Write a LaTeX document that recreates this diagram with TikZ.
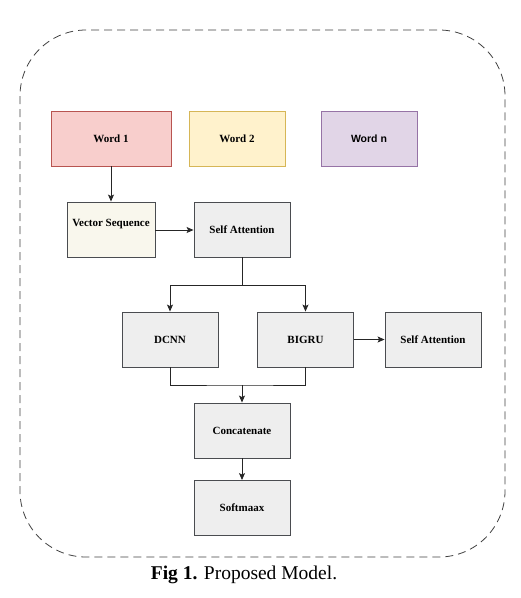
\documentclass[tikz,border=0pt]{standalone}
\usepackage{fontspec}
\setmainfont{Liberation Serif}
\newfontfamily\arialfont{Liberation Sans}
\usepackage{tikz}
\usetikzlibrary{shapes,arrows.meta}

\definecolor{wordonefill}{HTML}{F8CECC}
\definecolor{wordonedraw}{HTML}{B85450}
\definecolor{wordtwofill}{HTML}{FFF2CC}
\definecolor{wordtwodraw}{HTML}{D6B656}
\definecolor{wordnfill}{HTML}{E1D5E7}
\definecolor{wordndraw}{HTML}{9673A6}
\definecolor{vecfill}{HTML}{F9F7ED}
\definecolor{layerfill}{HTML}{EEEEEE}
\definecolor{layerdraw}{HTML}{4A4C50}

\begin{document}
\begin{tikzpicture}[x=1pt,y=-1pt,
    layer/.style={draw=layerdraw,fill=layerfill,line width=0.9pt,
      minimum width=96pt,minimum height=55pt,inner sep=2pt,
      font=\fontsize{11}{13}\selectfont\bfseries},
    flow/.style={-{Stealth[length=7pt,width=6pt,inset=1.5pt]},line width=0.9pt,black!85}]
    \useasboundingbox (0,0) rectangle (521,598);
    % outer frame
    \draw[dash pattern=on 8pt off 5pt,line width=0.8pt,black!75,rounded corners=66pt]
      (20,30) rectangle (505,557);
    % words
    \node[layer,fill=wordonefill,draw=wordonedraw,minimum width=120pt] (word1) at (111,138.5) {Word 1};
    \node[layer,fill=wordtwofill,draw=wordtwodraw] (word2) at (237,138.5) {Word 2};
    \node[layer,fill=wordnfill,draw=wordndraw,font=\arialfont\fontsize{10.5}{13}\selectfont\bfseries] (wordn) at (369,138.5) {Word n};
    % layers
    \node[layer,fill=vecfill,minimum width=88pt,text depth=14pt] (vecseq) at (111,229.5) {Vector Sequence};
    \node[layer] (selfatt) at (242,229.5) {Self Attention};
    \node[layer] (dcnn) at (170,339.5) {DCNN};
    \node[layer] (bigru) at (305.5,339.5) {BIGRU};
    \node[layer] (selfatt2) at (433,339.5) {Self Attention};
    \node[layer] (concat) at (242,430.5) {Concatenate};
    \node[layer] (softmax) at (242,508) {Softmaax};
    % connectors
    \coordinate (split) at (242,285);
    \coordinate (merge) at (242,385);
    \draw[flow] (word1) -- (vecseq);
    \draw[flow] (vecseq.east |- 0,230) -- (selfatt.west |- 0,230);
    \draw[line width=0.9pt,black!85] (selfatt) -- (split);
    \draw[flow] (split) -| (dcnn);
    \draw[flow] (split) -| (bigru);
    \draw[flow] (bigru) -- (selfatt2);
    \draw[line width=0.9pt,black!85] (dcnn) |- (merge) -| (bigru);
    \draw[flow] (merge) -- (concat);
    \draw[flow] (concat) -- (softmax);
    % caption
    \node[font=\fontsize{19.5}{23}\selectfont] (caption) at (244,575) {\textbf{Fig 1.} Proposed Model.};
  \end{tikzpicture}
\end{document}
